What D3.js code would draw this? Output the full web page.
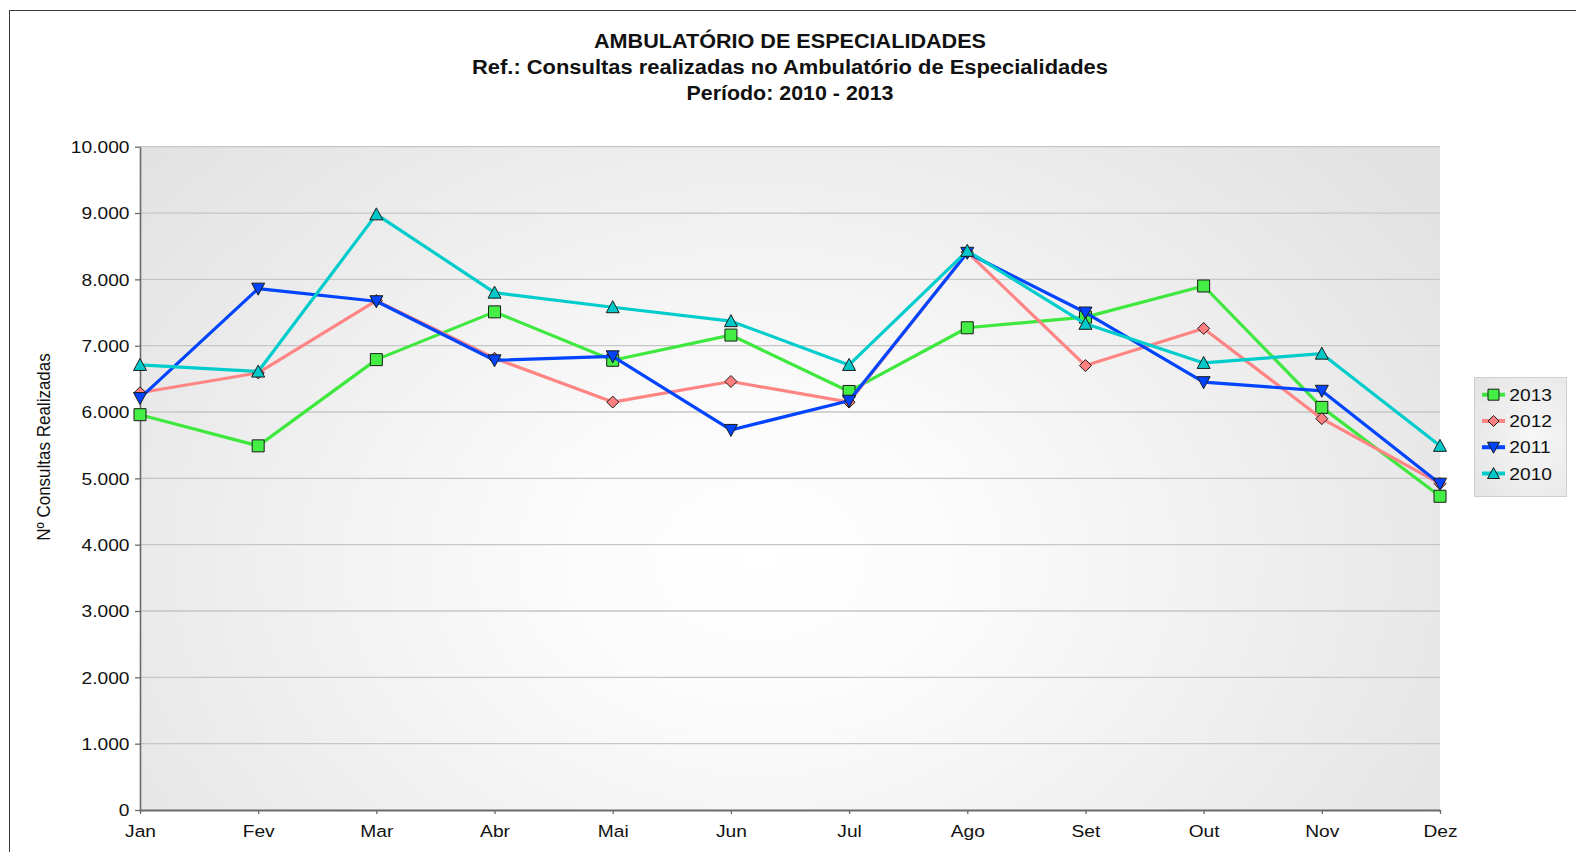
<!DOCTYPE html>
<html>
<head>
<meta charset="utf-8">
<script src="https://cdn.jsdelivr.net/npm/d3@7"></script>
<style>
  html, body { margin: 0; padding: 0; background: #ffffff; }
  svg { display: block; font-family: "Liberation Sans", Arial, sans-serif; }
</style>
</head>
<body>
<svg id="chart" width="1576" height="852"></svg>
<script>
// ---------------- DATA ----------------
const months = ["Jan","Fev","Mar","Abr","Mai","Jun","Jul","Ago","Set","Out","Nov","Dez"];
const years = ["2013","2012","2011","2010"];
const v2013 = [5960, 5490, 6790, 7510, 6780, 7160, 6310, 7270, 7430, 7900, 6070, 4730];
const v2012 = [6290, 6590, 7680, 6810, 6150, 6460, 6150, 8410, 6700, 7260, 5900, 4920];
const v2011 = [6210, 7860, 7670, 6780, 6840, 5730, 6170, 8400, 7500, 6450, 6320, 4920];
const v2010 = [6710, 6610, 8980, 7800, 7580, 7370, 6710, 8430, 7330, 6740, 6880, 5490];
const yTicks = [0, 1000, 2000, 3000, 4000, 5000, 6000, 7000, 8000, 9000, 10000];
const titleLines = [
  "AMBULATÓRIO DE ESPECIALIDADES",
  "Ref.: Consultas realizadas no Ambulatório de Especialidades",
  "Período: 2010 - 2013"
];
const yAxisTitle = "Nº Consultas Realizadas";

// ---------------- STYLE ----------------
const SX = 1.13; // horizontal glyph stretch seen in the reference
const seriesStyle = [
  { line: "#3ee83e", fill: "#44ee44", shape: "square" },
  { line: "#ff8585", fill: "#ff8080", shape: "diamond" },
  { line: "#0044ff", fill: "#0044ff", shape: "down" },
  { line: "#00cccc", fill: "#00c8c8", shape: "up" }
];
const seriesValues = [v2013, v2012, v2011, v2010];

const svg = d3.select("#chart");
const pLeft = 140, pRight = 1440, pTop = 146.7, pBottom = 810;

const x = d3.scalePoint().domain(months).range([pLeft, pRight]);
const y = d3.scaleLinear().domain([0, 10000]).range([pBottom, pTop]);
const fmt = d3.formatLocale({decimal: ",", thousands: ".", grouping: [3], currency: ["", ""]}).format(",d");

// outer frame
svg.append("rect").attr("x", 9.5).attr("y", 10.5).attr("width", 1600).attr("height", 900)
  .attr("fill", "none").attr("stroke", "#3a3a3a").attr("stroke-width", 1);

// defs
const defs = svg.append("defs");
const bg = defs.append("radialGradient").attr("id", "bgGrad")
  .attr("gradientUnits", "userSpaceOnUse")
  .attr("cx", 760).attr("cy", 560).attr("r", 820)
  .attr("gradientTransform", "translate(760,560) scale(1,0.75) translate(-760,-560)");
bg.append("stop").attr("offset", "0").attr("stop-color", "#ffffff");
bg.append("stop").attr("offset", "0.25").attr("stop-color", "#fbfbfb");
bg.append("stop").attr("offset", "1").attr("stop-color", "#e2e2e2");

const lg = defs.append("radialGradient").attr("id", "legGrad")
  .attr("cx", "0.65").attr("cy", "0.5").attr("r", "0.8");
lg.append("stop").attr("offset", "0").attr("stop-color", "#f7f7f7");
lg.append("stop").attr("offset", "1").attr("stop-color", "#e4e4e4");

// plot background
svg.append("rect").attr("x", pLeft).attr("y", pTop).attr("width", pRight - pLeft).attr("height", pBottom - pTop)
  .attr("fill", "url(#bgGrad)");

// gridlines
svg.append("g").selectAll("line").data(yTicks.filter(d => d > 0)).join("line")
  .attr("x1", pLeft).attr("x2", pRight)
  .attr("y1", d => y(d)).attr("y2", d => y(d))
  .attr("stroke", "#c6c6c6").attr("stroke-width", 1.3);

// y axis
const yAxis = svg.append("g").attr("transform", `translate(${pLeft},0)`)
  .call(d3.axisLeft(y).tickValues(yTicks).tickFormat(d => fmt(d)).tickSize(5).tickSizeOuter(0));
yAxis.select(".domain").attr("stroke", "#6a6a6a").attr("stroke-width", 1.6);
yAxis.selectAll(".tick line").attr("stroke", "#6a6a6a").attr("stroke-width", 1.3);
yAxis.selectAll(".tick text")
  .attr("x", 0).attr("dy", "0.35em")
  .attr("transform", `translate(-10.5,0) scale(${SX},1)`)
  .attr("font-size", 17).attr("fill", "#111");
yAxis.attr("font-family", null).attr("font-size", null);

// x axis
const xAxis = svg.append("g").attr("transform", `translate(0,${pBottom})`)
  .call(d3.axisBottom(x).tickSize(4).tickSizeOuter(0));
xAxis.select(".domain").attr("stroke", "#6a6a6a").attr("stroke-width", 2.2);
xAxis.selectAll(".tick line").attr("stroke", "#6a6a6a").attr("stroke-width", 1.3);
xAxis.selectAll(".tick text")
  .attr("y", 0).attr("dy", 0)
  .attr("transform", `translate(0,26.7) scale(${SX},1)`)
  .attr("font-size", 17).attr("fill", "#111");
xAxis.attr("font-family", null).attr("font-size", null);

// y axis title
svg.append("text")
  .attr("transform", `translate(50,447) scale(${SX},1) rotate(-90)`)
  .attr("text-anchor", "middle")
  .attr("font-size", 17).attr("fill", "#111")
  .text(yAxisTitle);

// title
const titleBase = [47.5, 74, 100];
const titleWidths = [392, 636, 207];
svg.append("g").selectAll("text").data(titleLines).join("text")
  .attr("x", 790).attr("y", (d, i) => titleBase[i])
  .attr("text-anchor", "middle")
  .attr("font-size", 20).attr("font-weight", "bold").attr("fill", "#111")
  .attr("textLength", (d, i) => titleWidths[i])
  .attr("lengthAdjust", "spacingAndGlyphs")
  .text(d => d);

// marker path generator
function markerPath(shape, s) {
  const h = s / 2;
  if (shape === "square") return `M${-h},${-h}H${h}V${h}H${-h}Z`;
  if (shape === "diamond") return `M0,${-h - 0.5}L${h + 0.5},0L0,${h + 0.5}L${-h - 0.5},0Z`;
  if (shape === "down") return `M${-h - 0.5},${-h + 0.5}H${h + 0.5}L0,${h + 0.5}Z`;
  return `M${-h - 0.5},${h - 0.5}H${h + 0.5}L0,${-h - 0.5}Z`;
}

// series
const lineGen = d3.line().x((d, i) => x(months[i])).y(d => y(d));
seriesValues.forEach((vals, si) => {
  const st = seriesStyle[si];
  const g = svg.append("g");
  g.append("path").datum(vals).attr("d", lineGen)
    .attr("fill", "none").attr("stroke", st.line).attr("stroke-width", 3.2)
    .attr("stroke-linejoin", "round");
  g.selectAll("path.m").data(vals).join("path").attr("class", "m")
    .attr("transform", (d, i) => `translate(${x(months[i])},${y(d)})`)
    .attr("d", markerPath(st.shape, st.shape === "diamond" ? 11 : 12))
    .attr("fill", st.fill).attr("stroke", "#1c1c1c").attr("stroke-width", 1);
});

// legend
const legX = 1474, legY = 377, legW = 92, legH = 119;
svg.append("rect").attr("x", legX + 0.5).attr("y", legY + 0.5).attr("width", legW).attr("height", legH)
  .attr("fill", "url(#legGrad)").attr("stroke", "#cfcfcf").attr("stroke-width", 1);
const rowY = d3.scalePoint().domain(years).range([394.7, 473.5]);
const leg = svg.append("g").selectAll("g").data(years).join("g")
  .attr("transform", d => `translate(0,${rowY(d)})`);
leg.append("line").attr("x1", 1482).attr("x2", 1505).attr("y1", 0).attr("y2", 0)
  .attr("stroke", (d, i) => seriesStyle[i].line).attr("stroke-width", 4);
leg.append("path")
  .attr("transform", "translate(1493.5,0)")
  .attr("d", (d, i) => markerPath(seriesStyle[i].shape, seriesStyle[i].shape === "diamond" ? 10 : 11))
  .attr("fill", (d, i) => seriesStyle[i].fill).attr("stroke", "#1c1c1c").attr("stroke-width", 1);
leg.append("text")
  .attr("transform", `translate(1509.3,0) scale(${SX},1)`)
  .attr("dy", "0.36em").attr("font-size", 17).attr("fill", "#111")
  .text(d => d);
</script>
</body>
</html>
